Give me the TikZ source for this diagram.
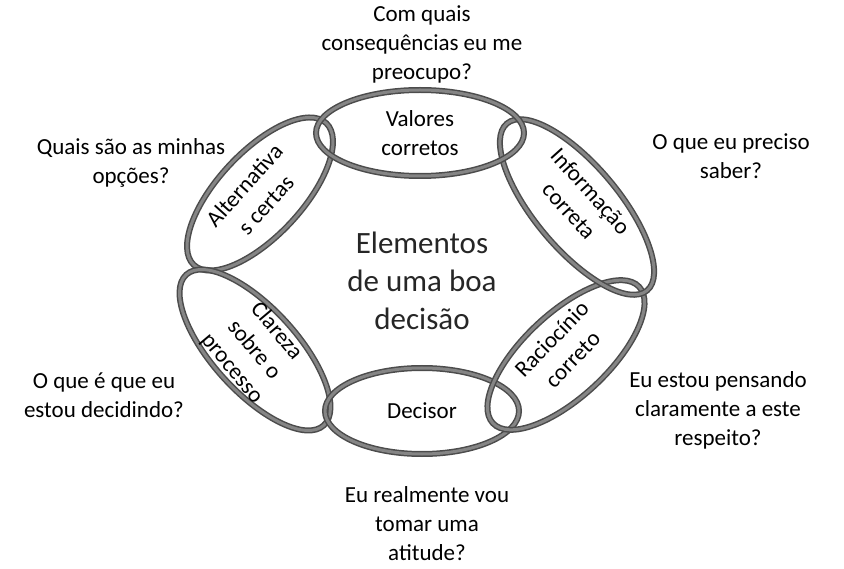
\documentclass[tikz,border=0pt]{standalone}
\usepackage{fontspec}
\setmainfont{Carlito}
\usetikzlibrary{shapes.geometric}
\tikzset{
  link/.style={ellipse, draw=black!70, line width=1.5pt, double=black!48, double distance=3pt, inner sep=0pt},
  linktxt/.style={align=center, font=\fontsize{23}{29}\selectfont},
  question/.style={align=center, font=\fontsize{23}{29}\selectfont}
}
\begin{document}
\begin{tikzpicture}[x=1pt,y=-1pt]
        \useasboundingbox (0,0) rectangle (844,569);

        \node[link, minimum width=194, minimum height=84, rotate=47] (alternativas) at (260,194) {};
        \node[link, minimum width=204, minimum height=84, rotate=-47.6] (clareza) at (255,350) {};
        \node[link, minimum width=194, minimum height=86] (decisor) at (422,411) {};
        \node[link, minimum width=200, minimum height=84, rotate=43] (raciocinio) at (566,355) {};
        \node[link, minimum width=218, minimum height=84, rotate=-50] (informacao) at (577,207) {};
        \node[link, minimum width=208, minimum height=86] (valores) at (420,133) {};

        \node[linktxt] (valorestxt) at (valores.center) {Valores\\corretos};
        \node[linktxt] (decisortxt) at (decisor.center) {Decisor};
        \node[linktxt, rotate=48] (alternativastxt) at (255,195) {Alternativa\\s certas};
        \node[linktxt, rotate=-48] (informacaotxt) at (580,201) {Informação\\correta};
        \node[linktxt, rotate=-50] (clarezatxt) at (254,350) {Clareza\\sobre o\\processo};
        \node[linktxt, rotate=46] (raciociniotxt) at (562,349) {Raciocínio\\correto};

        \node[align=center, text=black!85, font=\fontsize{31}{38}\selectfont] (titulo) at (422,281) {Elementos\\de uma boa\\decisão};

        \node[question] (q1) at (422,44) {Com quais\\consequências eu me\\preocupo?};
        \node[question] (q2) at (731,156) {O que eu preciso\\saber?};
        \node[question] (q3) at (718,410) {Eu estou pensando\\claramente a este\\respeito?};
        \node[question] (q4) at (427,524) {Eu realmente vou\\tomar uma\\atitude?};
        \node[question] (q5) at (104,395) {O que é que eu\\estou decidindo?};
        \node[question] (q6) at (131,163) {Quais são as minhas\\opções?};

    \end{tikzpicture}
\end{document}
